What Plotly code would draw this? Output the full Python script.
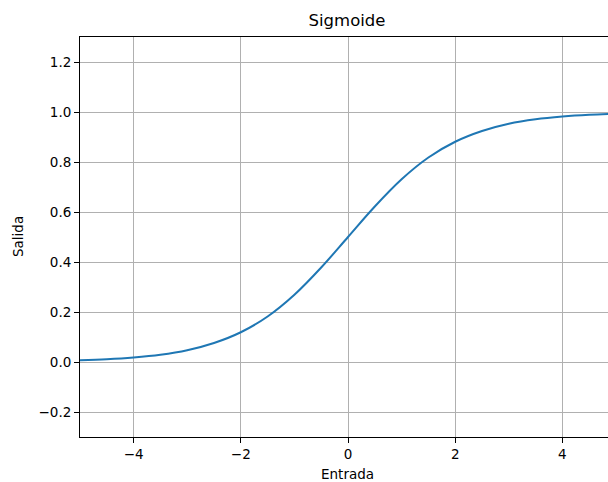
import plotly.graph_objects as go

x_vals = [-5, -4.5, -4, -3.5, -3, -2.5, -2, -1.5, -1, -0.5, 0, 0.5, 1, 1.5, 2, 2.5, 3, 3.5, 4, 4.5, 5]
y_vals = [0.007, 0.011, 0.018, 0.029, 0.047, 0.076, 0.119, 0.182, 0.269, 0.378, 0.5,
          0.622, 0.731, 0.818, 0.881, 0.924, 0.953, 0.971, 0.982, 0.989, 0.993]
x_ticks = [-4, -2, 0, 2, 4]
y_ticks = [-0.2, 0.0, 0.2, 0.4, 0.6, 0.8, 1.0, 1.2]
title = "Sigmoide"
x_label = "Entrada"
y_label = "Salida"

W, H = 608, 482
L, T, B = 80, 37, 45
FONT = "DejaVu Sans"

fig = go.Figure()
fig.add_trace(go.Scatter(x=x_vals, y=y_vals, mode="lines",
                         line=dict(color="#1f77b4", width=2, shape="spline"),
                         showlegend=False, hoverinfo="skip"))

fig.update_layout(
    width=W, height=H,
    margin=dict(l=L, r=0, t=T, b=B),
    paper_bgcolor="white", plot_bgcolor="white",
    font=dict(family=FONT, size=13.5, color="black"),
    title=dict(text=title, xref="container", yref="container",
               x=347 / W, y=1 - 20 / H, xanchor="center", yanchor="middle",
               font=dict(family=FONT, size=16.5, color="black")),
    xaxis=dict(range=[-5, -5 + (W - L) / 53.6], tickvals=x_ticks,
               ticktext=[str(v).replace("-", "\u2212") for v in x_ticks],
               showgrid=True, gridcolor="#b0b0b0", gridwidth=1,
               zeroline=False, showline=True, linecolor="black", linewidth=1,
               mirror=True, ticks="outside", ticklen=5, tickcolor="black", tickwidth=1),
    yaxis=dict(range=[-0.3, 1.3], tickvals=y_ticks,
               ticktext=[f"{v:.1f}".replace("-", "\u2212") for v in y_ticks],
               showgrid=True, gridcolor="#b0b0b0", gridwidth=1,
               zeroline=False, showline=True, linecolor="black", linewidth=1,
               ticks="outside", ticklen=5, tickcolor="black", tickwidth=1),
    annotations=[
        dict(text=x_label, xref="paper", yref="paper", x=(347 - L) / (W - L), y=0,
             yshift=-(474 - (H - B)), showarrow=False, xanchor="center", yanchor="middle",
             font=dict(family=FONT, size=13.5, color="black")),
        dict(text=y_label, xref="paper", yref="paper", x=0, y=0.5, xshift=-(L - 18),
             showarrow=False, textangle=-90, xanchor="center", yanchor="middle",
             font=dict(family=FONT, size=13.5, color="black")),
    ],
)

fig.write_html("out.html", config={"displayModeBar": False},
               post_script="document.body.style.margin='0';document.body.style.overflow='hidden';")
